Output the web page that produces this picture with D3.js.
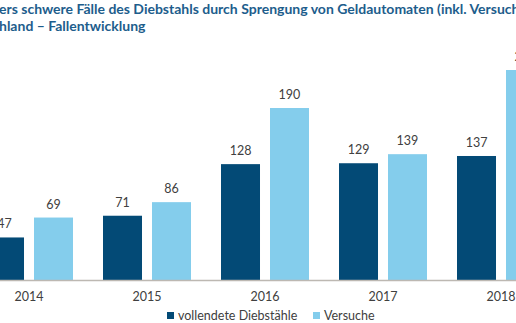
<!DOCTYPE html>
<html>
<head>
<meta charset="utf-8">
<style>
    body { margin: 0; background: #fff; }
    svg { display: block; }
    .title { font: bold 14px Lato, "Open Sans", sans-serif; fill: #1d5d8c; }
    .val, .year, .legend { font: 12.5px Lato, "Open Sans", sans-serif; fill: #404040; }
</style>
</head>
<body>
<svg width="516" height="323"></svg>
<script src="https://cdn.jsdelivr.net/npm/d3@7"></script>
<script>
var years = ["2014", "2015", "2016", "2017", "2018"];
var series = ["vollendete Diebstähle", "Versuche"];
var vollendet = [47, 71, 128, 129, 137];
var versuche = [69, 86, 190, 139, 232];
var colors = ["#034a76", "#84cdec"];
var titleLines = [
    "ers schwere Fälle des Diebstahls durch Sprengung von Geldautomaten (inkl. Versuche)",
    "hland \u2013 Fallentwicklung"
];

var svg = d3.select("svg");

var rows = years.map(function(y, i) {
    return { year: y, values: [vollendet[i], versuche[i]] };
});

// titles
svg.selectAll("text.title")
    .data(titleLines)
    .enter().append("text")
    .attr("class", "title")
    .attr("x", -1)
    .attr("y", function(d, i) { return 14 + i * 17; })
    .text(function(d) { return d; });

var x0 = d3.scalePoint().domain(years).range([29, 501]);
var x1 = d3.scaleBand().domain(series).range([-44, 44]).paddingInner(0.204);
var y = d3.scaleLinear().domain([0, 232]).range([280, 70]);

var groups = svg.selectAll("g.grp")
    .data(rows)
    .enter().append("g")
    .attr("class", "grp")
    .attr("transform", function(d) { return "translate(" + x0(d.year) + ",0)"; });

var cells = groups.selectAll("g.cell")
    .data(function(d) {
        return d.values.map(function(v, i) { return { key: series[i], value: v, i: i }; });
    })
    .enter().append("g");

cells.append("rect")
    .attr("x", function(d) { return x1(d.key); })
    .attr("width", x1.bandwidth())
    .attr("y", function(d) { return y(d.value); })
    .attr("height", function(d) { return y(0) - y(d.value); })
    .attr("fill", function(d) { return colors[d.i]; });

cells.append("text")
    .attr("class", "val")
    .attr("text-anchor", "middle")
    .attr("x", function(d) { return x1(d.key) + x1.bandwidth() / 2; })
    .attr("y", function(d) { return y(d.value) - 9; })
    .text(function(d) { return d.value; });

// baseline
svg.append("line")
    .attr("x1", 0).attr("x2", 516)
    .attr("y1", y(0) + 0.5).attr("y2", y(0) + 0.5)
    .attr("stroke", "#bdb8b2").attr("stroke-width", 1.5);

groups.append("text")
    .attr("class", "year")
    .attr("text-anchor", "middle")
    .attr("y", 301)
    .text(function(d) { return d.year; });

// legend
var legendX = [167, 313];
var leg = svg.selectAll("g.leg")
    .data(series)
    .enter().append("g")
    .attr("transform", function(d, i) { return "translate(" + legendX[i] + ",312)"; });

leg.append("rect")
    .attr("width", 7).attr("height", 7)
    .attr("fill", function(d, i) { return colors[i]; });

leg.append("text")
    .attr("class", "legend")
    .attr("x", 11)
    .attr("y", 7.5)
    .text(function(d) { return d; });
</script>
</body>
</html>
